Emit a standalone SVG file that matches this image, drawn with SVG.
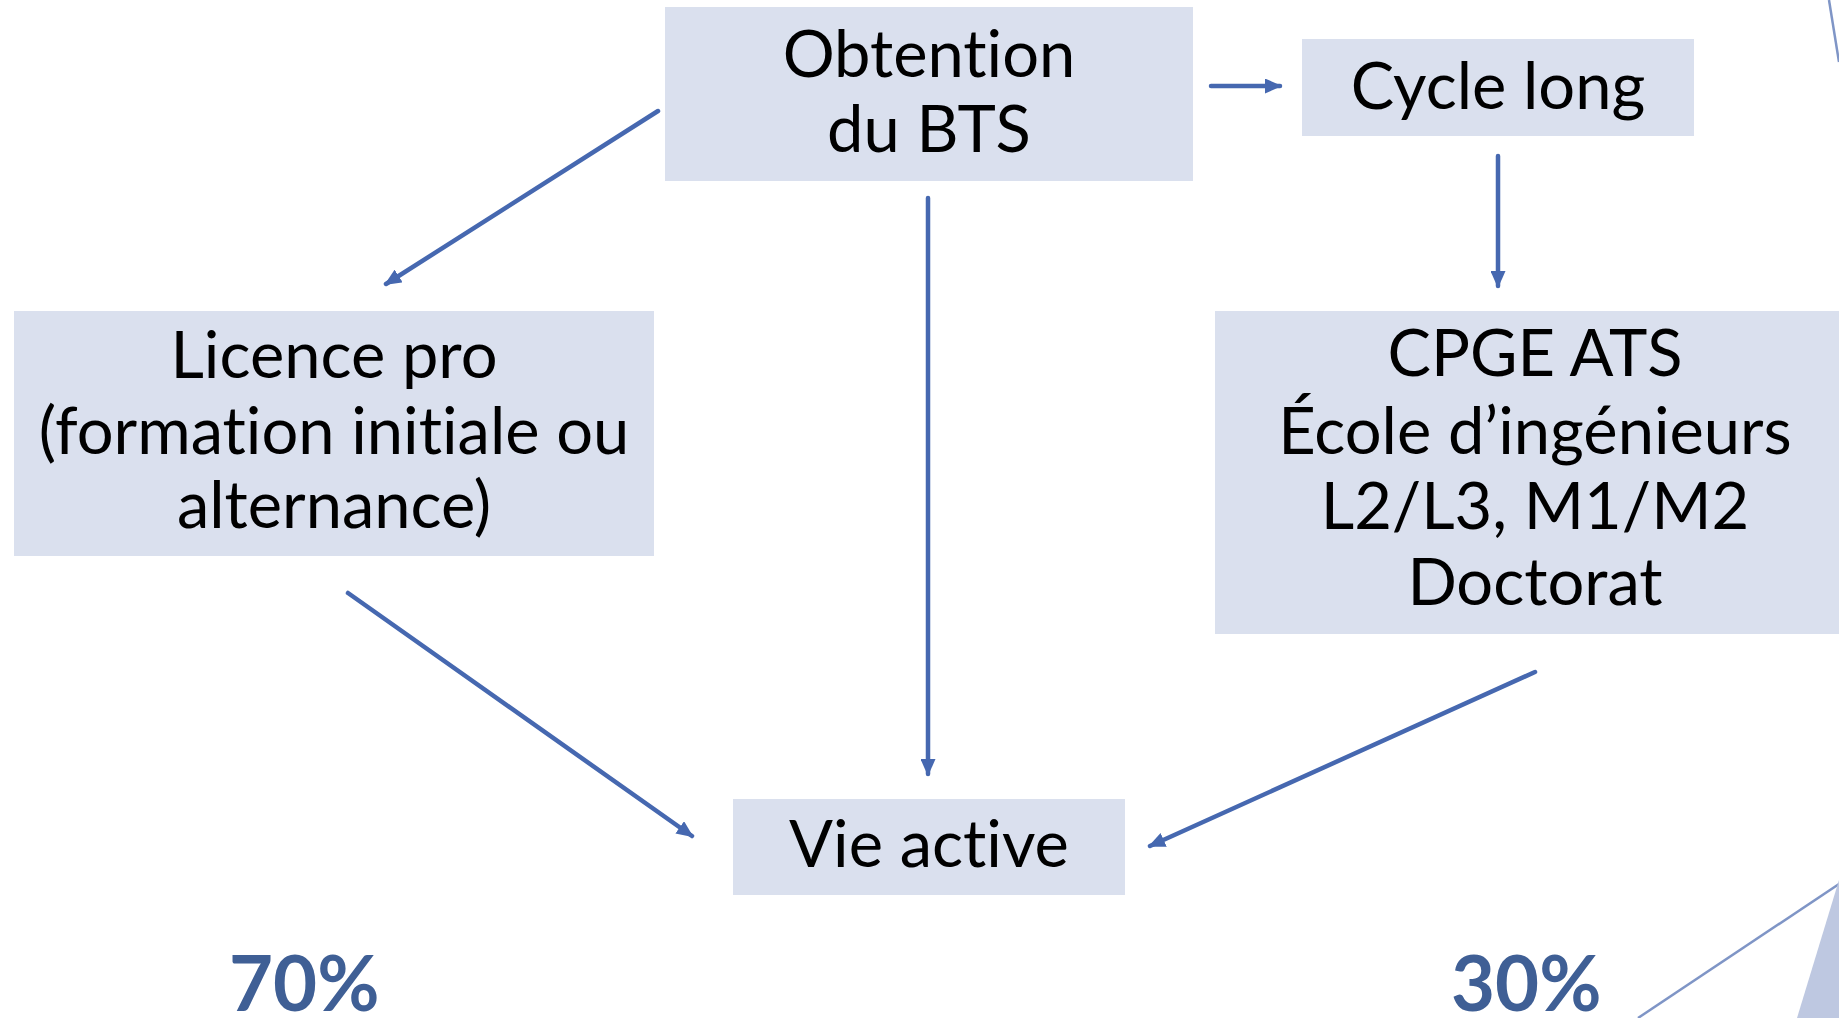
<svg xmlns="http://www.w3.org/2000/svg" width="1839" height="1018" viewBox="0 0 1839 1018">
<style>
.box{fill:#DAE0EE}
.t{font-family:Lato,"Liberation Sans",sans-serif;font-size:65px;fill:#000;text-anchor:middle;font-variant-ligatures:none;font-feature-settings:"liga" 0}
.pct{font-family:Lato,"Liberation Sans",sans-serif;font-size:76px;font-weight:bold;fill:#3F5F95}
.c{stroke:#4668B0;stroke-width:4.5;fill:none;stroke-linecap:round}
.deco{stroke:#7F95C6;stroke-width:2.5;fill:none}
</style>
<defs>
<marker id="ah" markerUnits="userSpaceOnUse" markerWidth="17" markerHeight="15" refX="15" refY="7.5" orient="auto">
<path d="M0,0 L17,7.5 L0,15 Z" fill="#4668B0"/>
</marker>
</defs>
<rect width="1839" height="1018" fill="#fff"/>
<g id="decor">
<line class="deco" x1="1829" y1="0" x2="1839" y2="62"/>
<line class="deco" x1="1638" y1="1018" x2="1839" y2="884"/>
<polygon points="1797,1018 1839,880 1839,1018" fill="#BEC8E1"/>
</g>
<g id="node-obtention">
<rect class="box" x="665" y="7" width="528" height="174"/>
<text class="t" x="929" y="77">Obtention</text>
<text class="t" x="929" y="152">du BTS</text>
</g>
<g id="node-cycle">
<rect class="box" x="1302" y="39" width="392" height="97"/>
<text class="t" x="1498" y="109">Cycle long</text>
</g>
<g id="node-licence">
<rect class="box" x="14" y="311" width="640" height="245"/>
<text class="t" x="334" y="378">Licence pro</text>
<text class="t" x="334" y="454">(formation initiale ou</text>
<text class="t" x="334" y="528">alternance)</text>
</g>
<g id="node-cpge">
<rect class="box" x="1215" y="311" width="640" height="323"/>
<text class="t" x="1535" y="376">CPGE ATS</text>
<text class="t" x="1535" y="454">École d’ingénieurs</text>
<text class="t" x="1535" y="529">L2/L3, M1/M2</text>
<text class="t" x="1535" y="605">Doctorat</text>
</g>
<g id="node-vie">
<rect class="box" x="733" y="799" width="392" height="96"/>
<text class="t" x="929" y="867">Vie active</text>
</g>
<g id="connectors">
<line class="c" x1="658" y1="111" x2="386" y2="284" marker-end="url(#ah)"/>
<line class="c" x1="928" y1="198" x2="928" y2="774" marker-end="url(#ah)"/>
<line class="c" x1="1211" y1="86" x2="1280" y2="86" marker-end="url(#ah)"/>
<line class="c" x1="1498" y1="156" x2="1498" y2="286" marker-end="url(#ah)"/>
<line class="c" x1="348" y1="593" x2="692" y2="836" marker-end="url(#ah)"/>
<line class="c" x1="1535" y1="672" x2="1150" y2="846" marker-end="url(#ah)"/>
</g>
<g id="labels">
<text class="pct" x="229" y="1011">70%</text>
<text class="pct" x="1451" y="1011">30%</text>
</g>
</svg>
